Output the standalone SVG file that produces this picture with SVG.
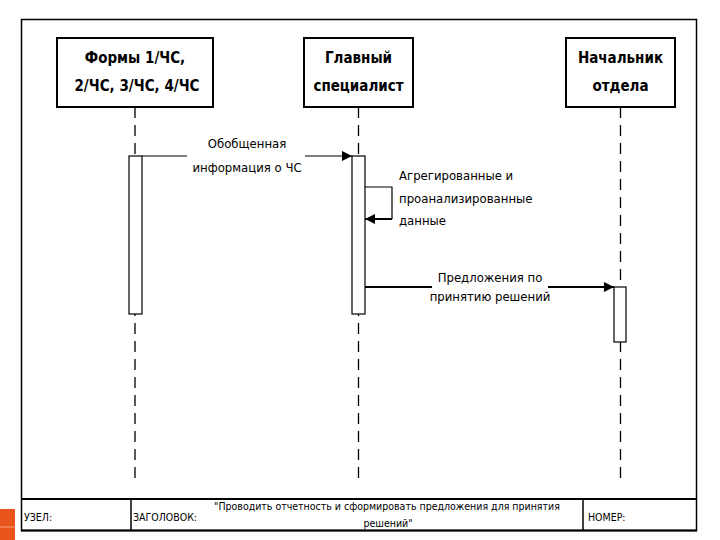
<svg xmlns="http://www.w3.org/2000/svg" width="720" height="540" viewBox="0 0 720 540">
<style>
.frame{fill:none;stroke:#000;stroke-width:1.5}
.box{fill:#fff;stroke:#000;stroke-width:2}
.bar{fill:#fff;stroke:#000;stroke-width:1.2}
.life{stroke:#000;stroke-width:1.3;stroke-dasharray:11 7;fill:none}
.msg{stroke:#000;fill:none}
.hdr{font-family:"DejaVu Sans Condensed","DejaVu Sans",sans-serif;font-stretch:condensed;font-weight:bold;font-size:15px;text-anchor:middle;fill:#000}
.lbl{font-family:"DejaVu Sans Condensed","DejaVu Sans",sans-serif;font-stretch:condensed;font-size:13px;fill:#000}
.tbl{font-family:"DejaVu Sans Condensed","DejaVu Sans",sans-serif;font-stretch:condensed;font-size:10.5px;fill:#000}
</style>
<defs>
<marker id="arr" viewBox="0 0 10 10" refX="10" refY="5" markerWidth="10" markerHeight="10" markerUnits="userSpaceOnUse" orient="auto">
<path d="M0,0 L10,5 L0,10 Z" fill="#000"/>
</marker>
</defs>
<rect width="720" height="540" fill="#fff"/>
<g id="decor">
<rect x="0" y="509" width="15" height="31" fill="#e8541c"/>
<line x1="0" y1="527" x2="15" y2="527" stroke="#f08a5d" stroke-width="1.5"/>
</g>
<rect class="frame" x="21.5" y="19.5" width="675" height="511"/>
<g id="lifelines">
<line class="life" x1="135" y1="107" x2="135" y2="484"/>
<line class="life" x1="358.5" y1="107" x2="358.5" y2="484"/>
<line class="life" x1="620.5" y1="107" x2="620.5" y2="484"/>
</g>
<g id="node-forms">
<rect class="box" x="57" y="38" width="156" height="69"/>
<text class="hdr" x="135" y="63">Формы 1/ЧС,</text>
<text class="hdr" x="137" y="91">2/ЧС, 3/ЧС, 4/ЧС</text>
</g>
<g id="node-chief-specialist">
<rect class="box" x="304" y="38" width="109" height="69"/>
<text class="hdr" x="358.5" y="63">Главный</text>
<text class="hdr" x="358.5" y="91">специалист</text>
</g>
<g id="node-head">
<rect class="box" x="566" y="38" width="109" height="69"/>
<text class="hdr" x="620.5" y="63">Начальник</text>
<text class="hdr" x="620.5" y="91">отдела</text>
</g>
<g id="activations">
<rect class="bar" x="129" y="156" width="13" height="158"/>
<rect class="bar" x="352" y="156" width="13" height="158"/>
<rect class="bar" x="614" y="287" width="12" height="55"/>
</g>
<g id="connectors">
<line class="msg" x1="142" y1="156" x2="352" y2="156" stroke-width="1.2" marker-end="url(#arr)"/>
<polyline class="msg" points="365,187 392,187 392,219" stroke-width="1.2"/>
<line class="msg" x1="392" y1="219" x2="365" y2="219" stroke-width="2" marker-end="url(#arr)"/>
<line class="msg" x1="365" y1="287" x2="614" y2="287" stroke-width="2" marker-end="url(#arr)"/>
</g>
<g id="labels">
<rect x="187" y="132" width="118" height="44" fill="#fff"/>
<text class="lbl" x="247" y="148" text-anchor="middle">Обобщенная</text>
<text class="lbl" x="247" y="172" text-anchor="middle">информация о ЧС</text>
<text class="lbl" x="399" y="180">Агрегированные и</text>
<text class="lbl" x="399" y="203">проанализированные</text>
<text class="lbl" x="399" y="225">данные</text>
<rect x="432" y="268" width="116" height="36" fill="#fff"/>
<text class="lbl" x="490" y="282" text-anchor="middle">Предложения по</text>
<text class="lbl" x="490" y="301" text-anchor="middle">принятию решений</text>
</g>
<g id="title-block">
<line x1="21" y1="499" x2="697" y2="499" stroke="#000" stroke-width="2"/>
<line x1="131" y1="499" x2="131" y2="531" stroke="#000" stroke-width="1.5"/>
<line x1="583" y1="499" x2="583" y2="531" stroke="#000" stroke-width="1.5"/>
<line x1="21" y1="530.5" x2="697" y2="530.5" stroke="#000" stroke-width="2"/>
<text class="tbl" x="24" y="521">УЗЕЛ:</text>
<text class="tbl" x="133" y="521">ЗАГОЛОВОК:</text>
<text class="tbl" x="387" y="510" text-anchor="middle">"Проводить отчетность и сформировать предложения для принятия</text>
<text class="tbl" x="388" y="527" text-anchor="middle">решений"</text>
<text class="tbl" x="588" y="521">НОМЕР:</text>
</g>
</svg>
